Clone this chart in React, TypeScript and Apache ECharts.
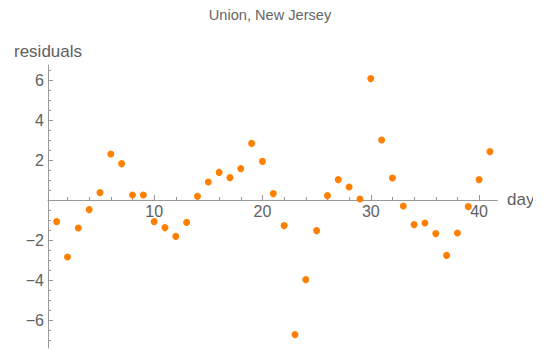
import React, { useEffect, useRef } from "react";
import * as echarts from "echarts";

const days: number[] = [
  1, 2, 3, 4, 5, 6, 7, 8, 9, 10, 11, 12, 13, 14, 15, 16, 17, 18, 19, 20, 21,
  22, 23, 24, 25, 26, 27, 28, 29, 30, 31, 32, 33, 34, 35, 36, 37, 38, 39, 40, 41,
];
const residuals: number[] = [
  -1.08, -2.85, -1.4, -0.48, 0.37, 2.3, 1.82, 0.25, 0.25, -1.08, -1.38, -1.82,
  -1.12, 0.19, 0.9, 1.38, 1.12, 1.57, 2.83, 1.93, 0.32, -1.28, -6.73, -3.98,
  -1.53, 0.22, 1.02, 0.65, 0.05, 6.07, 3.0, 1.1, -0.3, -1.23, -1.15, -1.68,
  -2.77, -1.65, -0.33, 1.02, 2.42,
];
const xMajorTicks: number[] = [10, 20, 30, 40];
const xMinorTicks: number[] = [2, 4, 6, 8, 12, 14, 16, 18, 22, 24, 26, 28, 32, 34, 36, 38];
const yMajorTicks: number[] = [-6, -4, -2, 2, 4, 6];
const yMinorTicks: number[] = [
  -7, -6.5, -5.5, -5, -4.5, -3.5, -3, -2.5, -1.5, -1, -0.5, 0.5, 1, 1.5, 2.5, 3,
  3.5, 4.5, 5, 5.5, 6.5,
];
const titleText = "Union, New Jersey";
const yName = "residuals";
const xName = "days";

const AXIS = "#9a9a9a";
const LABEL = "#606060";
const FONT = "'Liberation Sans', Arial, sans-serif";

export default function App() {
  const ref = useRef<HTMLDivElement>(null);
  useEffect(() => {
    if (!ref.current) return;
    const chart = echarts.init(ref.current, undefined, { renderer: "svg" });
    const xMin = 0.2, xMax = 41.7, yMin = -7.4, yMax = 6.75;
    const fmt = (v: number) => String(v).replace("-", "\u2212");
    const lineStyle = { color: AXIS, width: 1 };
    chart.setOption({
      animation: false,
      grid: [
        { left: 48, right: 48.5, top: 65, bottom: 6, containLabel: false, outerBoundsMode: "none" },
        { left: 48, right: 48.5, top: 65, bottom: 154, containLabel: false, outerBoundsMode: "none" },
      ],
      xAxis: [
        { type: "value", gridIndex: 0, min: xMin, max: xMax, show: false },
        {
          type: "value",
          gridIndex: 1,
          position: "bottom",
          min: xMin,
          max: xMax,
          splitLine: { show: false },
          axisLine: { show: true, onZero: false, lineStyle },
          axisTick: { show: true, inside: true, length: 5, customValues: xMajorTicks, lineStyle },
          axisLabel: {
            show: true,
            customValues: xMajorTicks,
            color: LABEL,
            fontSize: 16,
            fontFamily: FONT,
            margin: 3,
            formatter: fmt,
          },
        },
        {
          type: "value",
          gridIndex: 1,
          position: "bottom",
          min: xMin,
          max: xMax,
          splitLine: { show: false },
          axisLine: { show: false, onZero: false },
          axisTick: { show: true, inside: true, length: 3, customValues: xMinorTicks, lineStyle },
          axisLabel: { show: false },
        },
      ],
      yAxis: [
        {
          type: "value",
          gridIndex: 0,
          position: "left",
          min: yMin,
          max: yMax,
          splitLine: { show: false },
          axisLine: { show: true, onZero: false, lineStyle },
          axisTick: { show: true, inside: true, length: 5, customValues: yMajorTicks, lineStyle },
          axisLabel: {
            show: true,
            customValues: yMajorTicks,
            color: LABEL,
            fontSize: 16,
            fontFamily: FONT,
            margin: 4,
            formatter: fmt,
          },
        },
        {
          type: "value",
          gridIndex: 0,
          position: "left",
          min: yMin,
          max: yMax,
          splitLine: { show: false },
          axisLine: { show: false, onZero: false },
          axisTick: { show: true, inside: true, length: 3, customValues: yMinorTicks, lineStyle },
          axisLabel: { show: false },
        },
        { type: "value", gridIndex: 1, min: 0, max: 1, show: false },
      ],
      graphic: [
        {
          type: "text",
          x: 270,
          y: 15,
          style: {
            text: titleText,
            fill: "#666666",
            fontSize: 14.6,
            fontFamily: FONT,
            align: "center",
            verticalAlign: "middle",
          },
        },
        {
          type: "text",
          x: 14,
          y: 51,
          style: {
            text: yName,
            fill: LABEL,
            fontSize: 17,
            fontFamily: FONT,
            align: "left",
            verticalAlign: "middle",
          },
        },
        {
          type: "text",
          x: 507,
          y: 199,
          style: {
            text: xName,
            fill: LABEL,
            fontSize: 17,
            fontFamily: FONT,
            align: "left",
            verticalAlign: "middle",
          },
        },
        {
          type: "rect",
          shape: { x: 533, y: 185, width: 13, height: 30 },
          style: { fill: "#ffffff" },
          z: 100,
        },
      ],
      series: [
        {
          type: "scatter",
          xAxisIndex: 0,
          yAxisIndex: 0,
          symbol: "circle",
          symbolSize: 7,
          itemStyle: { color: "#ff8000", opacity: 1 },
          data: days.map((d, i) => [d, residuals[i]]),
        },
      ],
    });
    return () => chart.dispose();
  }, []);
  return <div ref={ref} style={{ width: 546, height: 354, position: "absolute", left: 0, top: 0 }} />;
}
